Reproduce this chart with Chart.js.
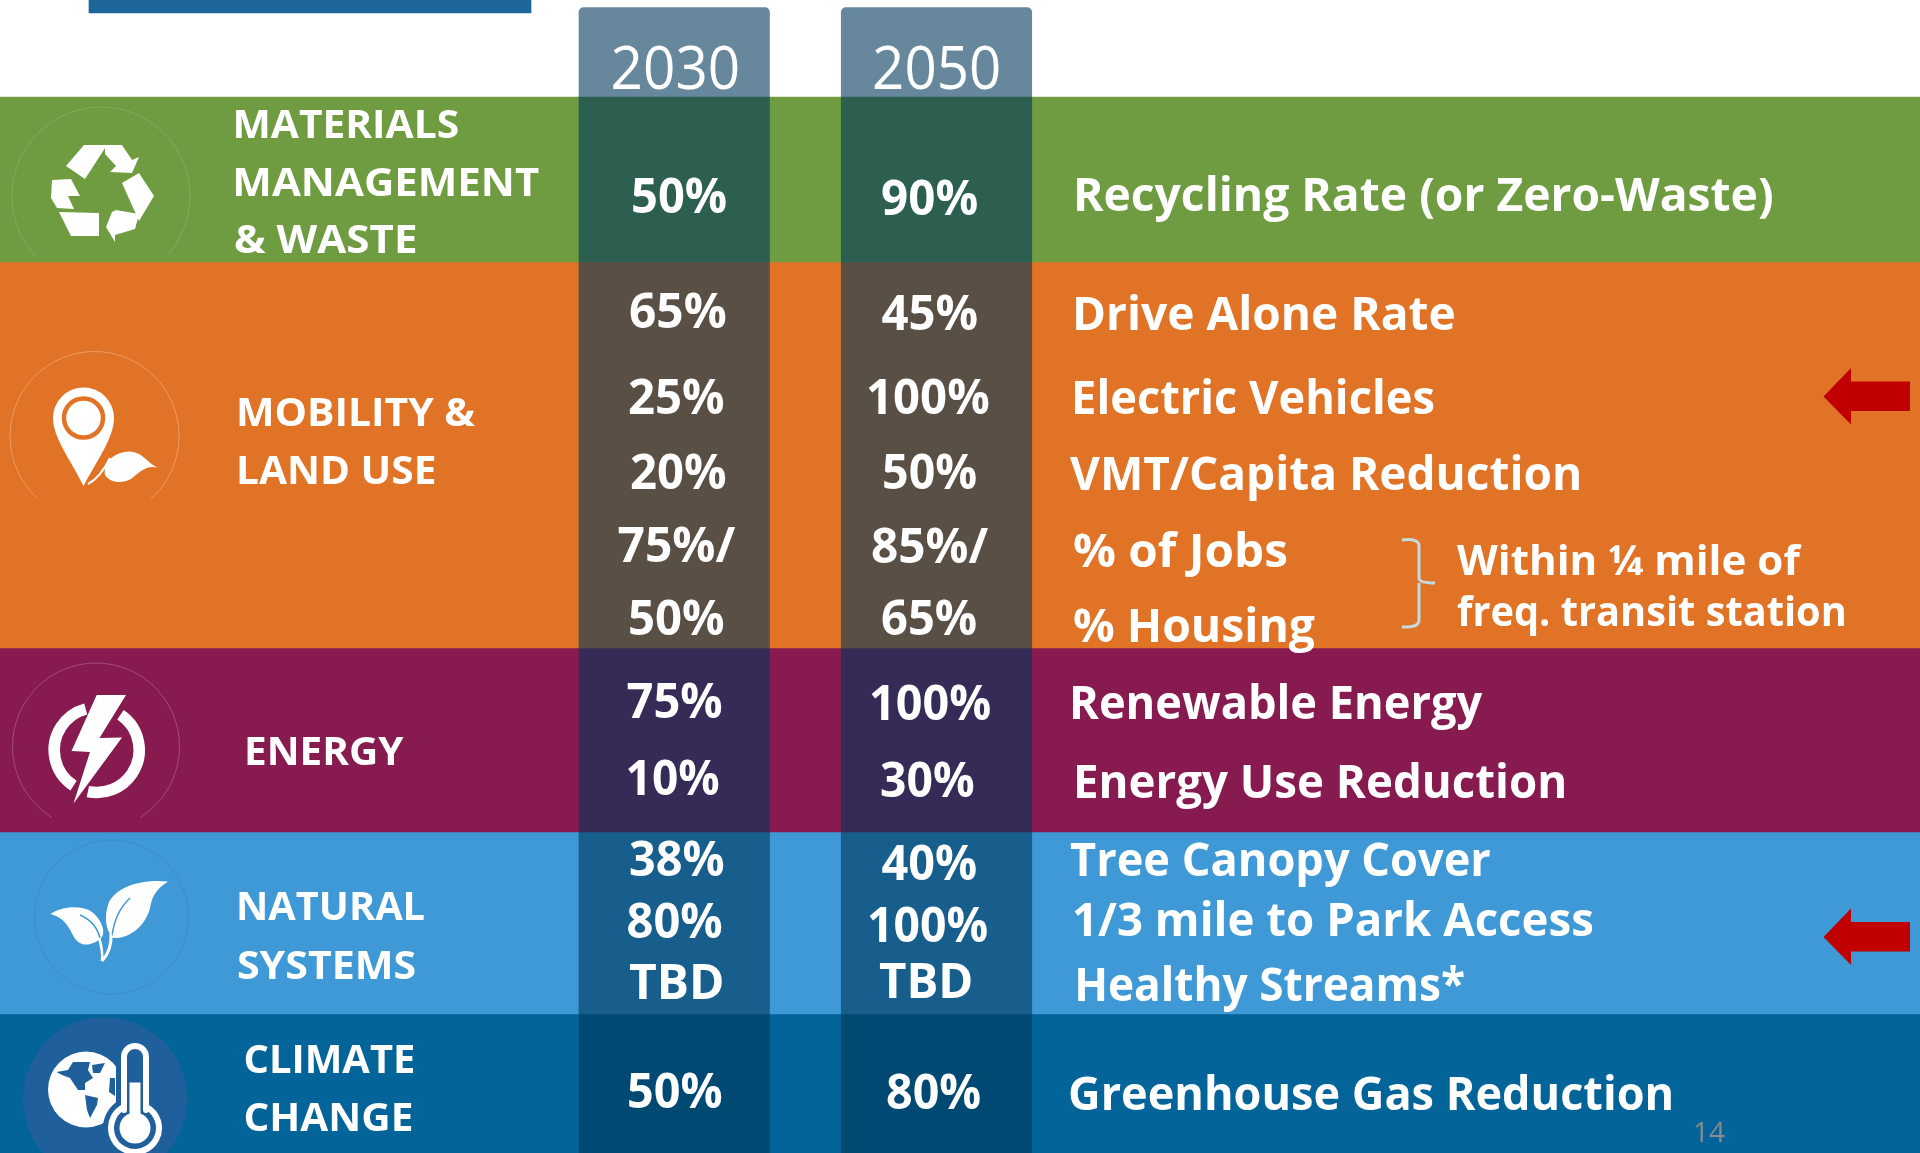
<!DOCTYPE html>
<html>
<head>
<meta charset="utf-8">
<title>Metas 2030 / 2050</title>
<style>
  html, body { margin: 0; padding: 0; background: #fff; }
  #contenedor { width: 1920px; height: 1153px; }
</style>
<script src="https://cdn.jsdelivr.net/npm/chart.js@4/dist/chart.umd.min.js"></script>
</head>
<body>
<div id="contenedor"><canvas id="grafico" width="1920" height="1153"></canvas></div>
<script>
// Datos del cuadro
const categorias = ['MATERIALS MANAGEMENT & WASTE', 'MOBILITY & LAND USE', 'ENERGY', 'NATURAL SYSTEMS', 'CLIMATE CHANGE'];
const anios = ['2030', '2050'];
const valores2030 = ['50%', '65%', '25%', '20%', '75%/', '50%', '75%', '10%', '38%', '80%', 'TBD', '50%'];
const valores2050 = ['90%', '45%', '100%', '50%', '85%/', '65%', '100%', '30%', '40%', '100%', 'TBD', '80%'];
const indicadores = ['Recycling Rate (or Zero-Waste)', 'Drive Alone Rate', 'Electric Vehicles', 'VMT/Capita Reduction',
    '% of Jobs', '% Housing', 'Renewable Energy', 'Energy Use Reduction', 'Tree Canopy Cover',
    '1/3 mile to Park Access', 'Healthy Streams*', 'Greenhouse Gas Reduction'];
const rotulosCategoria = ['MATERIALS', 'MANAGEMENT', '& WASTE', 'MOBILITY &', 'LAND USE', 'ENERGY', 'NATURAL', 'SYSTEMS', 'CLIMATE', 'CHANGE'];
const notaTransito = ['Within ¼ mile of', 'freq. transit station'];
const numeroPagina = ['14'];

// Posiciones, en unidades de los ejes (aparte de los datos)
const limitesBandas = [97, 262, 648, 832, 1014, 1153];
const coloresBandas = ['#6F9C41', '#E07326', '#871B50', '#3E99D6', '#026499'];
const centroColumnas = [674.25, 936.5];
const anchoColumna = 190.5;
const cajas2030 = [[633, 726, 212.5], [630, 725.5, 328], [629, 723.5, 414], [631, 725.5, 488.5], [618.5, 735.5, 562], [630, 723.5, 635],
    [627.5, 721.5, 718], [627.5, 718.5, 794.5], [630, 723.5, 876], [627.5, 721.5, 938], [629, 722, 998.5], [629, 721.5, 1108]];
const cajas2050 = [[882, 977, 214.5], [881.5, 977, 330], [868, 988.5, 414], [884, 976, 488.5], [872, 988.5, 563], [882, 976, 635],
    [871, 990, 719.5], [881, 973.5, 797], [881.5, 976, 880], [869, 987, 942], [879, 971, 997.5], [887, 980, 1109]];
const cajasIndicadores = [[1077, 1772, 211], [1076, 1454.5, 330], [1075, 1434, 414], [1070, 1579, 489.5], [1074, 1287, 566.5], [1074, 1315, 641.5],
    [1073, 1483, 719], [1077, 1564, 798], [1070, 1490, 876], [1074, 1593, 936], [1078, 1464, 1001], [1070, 1671, 1110]];
const cajasRotulos = [[235.5, 458, 138], [235.5, 539, 196], [235, 416, 252.5], [239, 475, 426], [239, 435, 484],
    [247, 403.5, 765], [239, 424.5, 920], [238, 415, 979], [245.5, 414, 1073], [245.5, 412, 1131]];
const cajasNota = [[1457, 1802, 575], [1457, 1844, 626]];
const cajasAnios = [[612.5, 738, 88.5], [874, 999, 88.5]];
const cajasPagina = [[1695, 1725, 1142]];

const fuente = '"Open Sans", "Noto Sans", sans-serif';
const grupos = [
    { textos: anios, cajas: cajasAnios, font: '400 60px ' + fuente, color: '#ffffff' },
    { textos: rotulosCategoria, cajas: cajasRotulos, font: '700 40px ' + fuente, color: '#ffffff' },
    { textos: valores2030, cajas: cajas2030, font: '700 48px ' + fuente, color: '#ffffff' },
    { textos: valores2050, cajas: cajas2050, font: '700 48px ' + fuente, color: '#ffffff' },
    { textos: indicadores, cajas: cajasIndicadores, font: '700 46px ' + fuente, color: '#ffffff' },
    { textos: notaTransito, cajas: cajasNota, font: '700 41px ' + fuente, color: '#ffffff' },
    { textos: numeroPagina, cajas: cajasPagina, font: '400 28px ' + fuente, color: '#8B8B8B' }
];

// Dibuja un texto ajustado al ancho medido en la imagen
function textoAjustado(ctx, texto, x0, x1, base, font) {
    ctx.save();
    ctx.font = font;
    ctx.textAlign = 'left';
    ctx.textBaseline = 'alphabetic';
    const m = ctx.measureText(texto);
    const real = m.actualBoundingBoxRight + m.actualBoundingBoxLeft;
    const k = (x1 - x0) / real;
    ctx.translate(x0 + m.actualBoundingBoxLeft * k, base);
    ctx.scale(k, 1);
    ctx.fillText(texto, 0, 0);
    ctx.restore();
}

function poligono(ctx, puntos) {
    ctx.beginPath();
    puntos.forEach((p, i) => i ? ctx.lineTo(p[0], p[1]) : ctx.moveTo(p[0], p[1]));
    ctx.closePath();
    ctx.fill();
}

const grados = g => g * Math.PI / 180;

// Circulo fino que queda cortado por debajo, como en el original
function circuloIcono(ctx, cx, cy, r, corte, color) {
    ctx.save();
    ctx.beginPath();
    ctx.rect(cx - r - 2, cy - r - 2, 2 * r + 4, corte - (cy - r - 2));
    ctx.clip();
    ctx.strokeStyle = color;
    ctx.lineWidth = 1;
    ctx.beginPath();
    ctx.arc(cx, cy, r, 0, Math.PI * 2);
    ctx.stroke();
    ctx.restore();
}

function iconoReciclaje(ctx) {
    circuloIcono(ctx, 101, 196, 89, 256, '#83AB5C');
    ctx.fillStyle = '#ffffff';
    poligono(ctx, [[84, 145], [107, 145], [85, 179], [66, 166]]);
    poligono(ctx, [[105, 145], [122, 145], [132, 160], [139, 157], [132, 173], [110, 172], [116, 166], [105, 154]]);
    poligono(ctx, [[139, 173], [154, 196], [139, 221], [122, 183]]);
    poligono(ctx, [[116, 210], [139, 214], [135, 229], [115, 235], [115, 242], [106, 227], [112, 212]]);
    poligono(ctx, [[59, 212], [99, 213], [99, 236], [71, 236]]);
    poligono(ctx, [[71, 179], [52, 180], [51, 198], [57, 208], [74, 209], [68, 196], [80, 196]]);
}

function iconoMovilidad(ctx) {
    circuloIcono(ctx, 94.5, 436, 84.5, 499, '#EB9C66');
    ctx.fillStyle = '#ffffff';
    ctx.beginPath();
    ctx.moveTo(83.5, 486);
    ctx.bezierCurveTo(72, 462, 53, 438, 53, 418);
    ctx.arc(83.5, 418, 30.5, Math.PI, 0);
    ctx.bezierCurveTo(114, 438, 96, 462, 83.5, 486);
    ctx.fill();
    ctx.strokeStyle = '#E07326';
    ctx.lineWidth = 4.5;
    ctx.beginPath();
    ctx.arc(83.5, 418, 19.5, 0, Math.PI * 2);
    ctx.stroke();
    // hoja
    ctx.fillStyle = '#ffffff';
    ctx.beginPath();
    ctx.moveTo(105, 475);
    ctx.bezierCurveTo(103, 462, 114, 452, 130, 451.5);
    ctx.bezierCurveTo(142, 452, 148, 463, 157, 467.5);
    ctx.bezierCurveTo(146, 465, 140, 472, 131, 479);
    ctx.bezierCurveTo(122, 484, 110, 483, 105, 475);
    ctx.fill();
    ctx.strokeStyle = '#ffffff';
    ctx.lineWidth = 2;
    ctx.beginPath();
    ctx.moveTo(110, 458);
    ctx.quadraticCurveTo(100, 478, 88, 484);
    ctx.stroke();
}

function iconoEnergia(ctx) {
    circuloIcono(ctx, 96, 746.5, 83.5, 817, '#A24C79');
    ctx.strokeStyle = '#ffffff';
    ctx.lineWidth = 11.5;
    ctx.beginPath();
    ctx.arc(96.7, 750, 42.5, grados(123), grados(255));
    ctx.stroke();
    ctx.beginPath();
    ctx.arc(96.7, 750, 42.5, grados(-56), grados(102));
    ctx.stroke();
    ctx.fillStyle = '#ffffff';
    poligono(ctx, [[96.7, 695], [126, 695], [99.5, 738], [122, 737.5], [73.5, 803.5], [90, 752], [71.5, 751]]);
}

function iconoNaturaleza(ctx) {
    circuloIcono(ctx, 111.5, 917, 77, 1000, '#3A8DC6');
    ctx.fillStyle = '#ffffff';
    // hoja derecha
    ctx.beginPath();
    ctx.moveTo(168, 881.5);
    ctx.bezierCurveTo(145, 879, 118, 885, 109, 902);
    ctx.bezierCurveTo(104, 915, 105, 930, 113, 938);
    ctx.bezierCurveTo(130, 939, 146, 925, 150, 908);
    ctx.bezierCurveTo(152, 895, 158, 888, 168, 881.5);
    ctx.fill();
    // hoja izquierda
    ctx.beginPath();
    ctx.moveTo(50.5, 914);
    ctx.bezierCurveTo(62, 906, 82, 905, 92, 912);
    ctx.bezierCurveTo(100, 918, 106, 930, 102, 937);
    ctx.bezierCurveTo(97, 943, 86, 947, 80, 943);
    ctx.bezierCurveTo(70, 938, 72, 920, 50.5, 914);
    ctx.fill();
    // nervios
    ctx.strokeStyle = '#3E99D6';
    ctx.lineWidth = 1.5;
    ctx.beginPath();
    ctx.moveTo(130, 898);
    ctx.quadraticCurveTo(115, 912, 112, 936);
    ctx.stroke();
    ctx.beginPath();
    ctx.moveTo(80, 915);
    ctx.quadraticCurveTo(96, 922, 100, 938);
    ctx.stroke();
    ctx.strokeStyle = '#ffffff';
    ctx.lineWidth = 3;
    ctx.beginPath();
    ctx.moveTo(111, 934);
    ctx.quadraticCurveTo(112, 950, 102, 961);
    ctx.stroke();
    ctx.lineWidth = 2.5;
    ctx.beginPath();
    ctx.moveTo(99, 938);
    ctx.quadraticCurveTo(103, 950, 102, 961);
    ctx.stroke();
}

function iconoClima(ctx) {
    const fondo = '#1F5F9B';
    ctx.fillStyle = fondo;
    ctx.beginPath();
    ctx.arc(105, 1099, 82, 0, Math.PI * 2);
    ctx.fill();
    ctx.fillStyle = '#ffffff';
    ctx.beginPath();
    ctx.arc(86, 1089.5, 38, 0, Math.PI * 2);
    ctx.fill();
    // continentes
    ctx.fillStyle = fondo;
    poligono(ctx, [[56.5, 1072], [68, 1070], [73, 1062], [90, 1062], [88, 1070], [93, 1078], [85, 1083], [85, 1090], [78, 1090], [70, 1078], [62, 1075]]);
    poligono(ctx, [[92, 1065], [105, 1063], [100, 1073], [93, 1073]]);
    poligono(ctx, [[85, 1095], [98, 1098], [97, 1105], [90, 1118], [87, 1110]]);
    poligono(ctx, [[110, 1078], [115, 1078], [115, 1096], [109, 1092]]);
    // termometro: halo, contorno y mercurio
    const contorno = () => {
        ctx.beginPath();
        ctx.moveTo(124, 1110);
        ctx.lineTo(124, 1057);
        ctx.arc(135, 1057, 11, Math.PI, 0);
        ctx.lineTo(146, 1110);
        ctx.arc(135, 1128, 24, grados(-62), grados(242), false);
        ctx.closePath();
    };
    ctx.lineJoin = 'round';
    ctx.strokeStyle = fondo;
    ctx.lineWidth = 16;
    contorno();
    ctx.stroke();
    ctx.fill();
    ctx.strokeStyle = '#ffffff';
    ctx.lineWidth = 6;
    contorno();
    ctx.stroke();
    ctx.fillStyle = '#ffffff';
    ctx.fillRect(129.5, 1082.5, 11, 40);
    ctx.beginPath();
    ctx.arc(135, 1128, 15.5, 0, Math.PI * 2);
    ctx.fill();
}

function flechaRoja(ctx, y) {
    ctx.fillStyle = '#C00000';
    poligono(ctx, [[1823.5, y], [1851, y - 28.5], [1851, y - 15], [1910, y - 15], [1910, y + 14.5], [1851, y + 14.5], [1851, y + 28]]);
}

function llave(ctx) {
    ctx.strokeStyle = '#C5DADD';
    ctx.lineWidth = 3;
    ctx.beginPath();
    ctx.moveTo(1402, 540);
    ctx.quadraticCurveTo(1419, 538, 1419, 546);
    ctx.lineTo(1419, 578);
    ctx.quadraticCurveTo(1419, 583, 1435, 583);
    ctx.moveTo(1419, 583);
    ctx.lineTo(1419, 620);
    ctx.quadraticCurveTo(1419, 628, 1402, 627);
    ctx.stroke();
}

// Plugin que pone textos e iconos encima de las barras
const pluginTextos = {
    id: 'textos',
    afterDatasetsDraw(chart) {
        const ctx = chart.ctx;
        const esX = chart.scales.x;
        const esY = chart.scales.y;
        iconoReciclaje(ctx);
        iconoMovilidad(ctx);
        iconoEnergia(ctx);
        iconoNaturaleza(ctx);
        iconoClima(ctx);
        llave(ctx);
        flechaRoja(ctx, 396.5);
        flechaRoja(ctx, 937);
        grupos.forEach(g => {
            ctx.fillStyle = g.color;
            g.textos.forEach((texto, i) => {
                const c = g.cajas[i];
                textoAjustado(ctx, texto, esX.getPixelForValue(c[0]), esX.getPixelForValue(c[1]), esY.getPixelForValue(c[2]), g.font);
            });
        });
    }
};

// Columnas translucidas primero: Chart.js pinta el primer dataset encima de los demas
const datasets = [];
anios.forEach((anio, i) => {
    datasets.push({
        label: anio,
        data: [{ x: centroColumnas[i], y: [7.5, 1153] }],
        backgroundColor: 'rgba(0, 55, 90, 0.6)',
        barThickness: anchoColumna,
        borderRadius: { topLeft: 5, topRight: 5, bottomLeft: 0, bottomRight: 0 },
        borderSkipped: false,
        grouped: false
    });
});
categorias.forEach((nombre, i) => {
    datasets.push({
        label: nombre,
        data: [{ x: 960, y: [limitesBandas[i], limitesBandas[i + 1]] }],
        backgroundColor: coloresBandas[i],
        barThickness: 1920,
        grouped: false
    });
});
datasets.push({
    label: 'barra superior',
    data: [{ x: 310, y: [0, 13] }],
    backgroundColor: '#1D6699',
    barThickness: 442,
    grouped: false
});

new Chart(document.getElementById('grafico'), {
    type: 'bar',
    data: { datasets },
    options: {
        responsive: false,
        animation: false,
        layout: { padding: 0 },
        plugins: { legend: { display: false }, title: { display: false }, tooltip: { enabled: false } },
        scales: {
            x: { type: 'linear', min: 0, max: 1920, offset: false, display: false },
            y: { type: 'linear', min: 0, max: 1153, reverse: true, display: false }
        }
    },
    plugins: [pluginTextos]
});
</script>
</body>
</html>
